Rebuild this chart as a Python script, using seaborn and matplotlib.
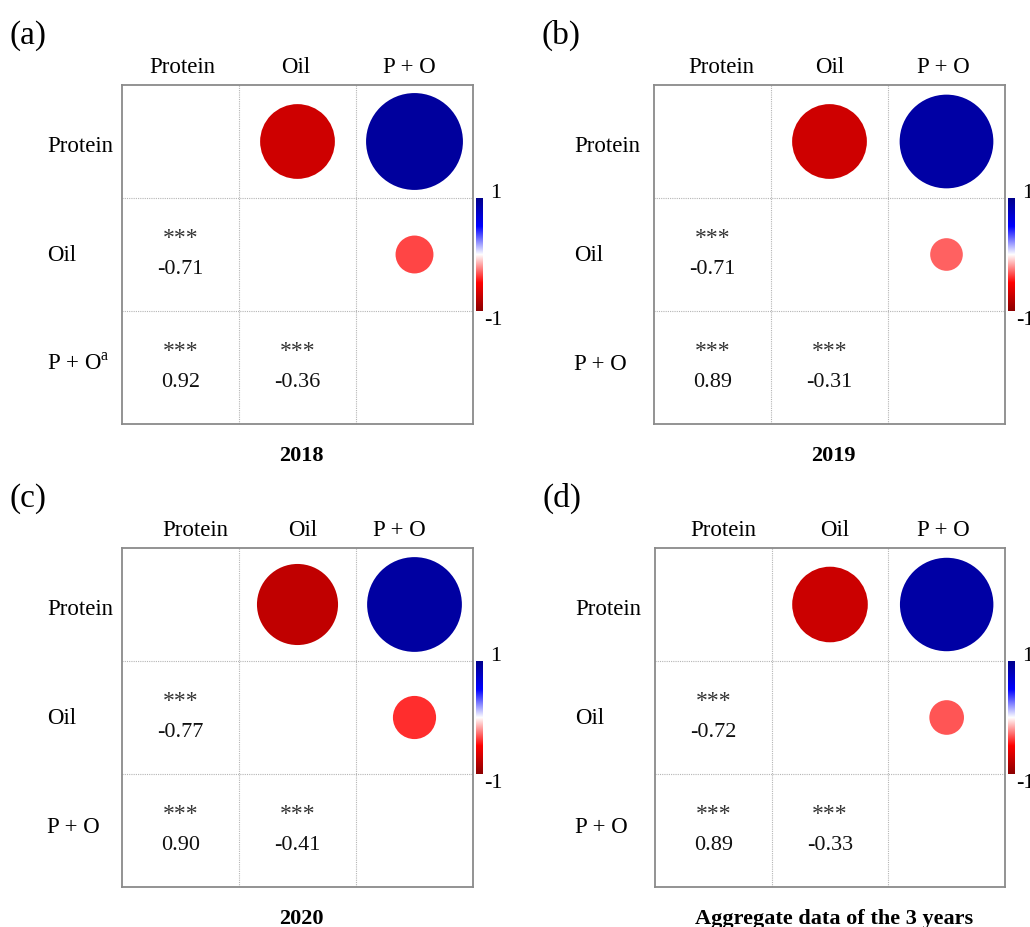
import matplotlib
matplotlib.use("Agg")
import matplotlib.pyplot as plt
import matplotlib.colors as mcolors
import seaborn as sns
import pandas as pd
import numpy as np

# ---- data ----
traits = ["Protein", "Oil", "P + O"]
pairs = [(0, 1), (0, 2), (1, 2)]          # (row, col) in the upper triangle
r_2018 = [-0.71, 0.92, -0.36]
r_2019 = [-0.71, 0.89, -0.31]
r_2020 = [-0.77, 0.90, -0.41]
r_all = [-0.72, 0.89, -0.33]
stars_2018 = ["***", "***", "***"]
stars_2019 = ["***", "***", "***"]
stars_2020 = ["***", "***", "***"]
stars_all = ["***", "***", "***"]
panel_tags = ["(a)", "(b)", "(c)", "(d)"]
panel_titles = ["2018", "2019", "2020", "Aggregate data of the 3 years"]

sns.set_theme(style="white")
plt.rcParams["font.family"] = ["Liberation Serif", "DejaVu Serif"]
plt.rcParams["mathtext.fontset"] = "custom"
plt.rcParams["mathtext.rm"] = "Liberation Serif"
plt.rcParams["text.color"] = "black"

cmap = mcolors.LinearSegmentedColormap.from_list(
    "corr", ["darkred", "red", "white", "blue", "darkblue"])

W, H = 1030, 927
fig = plt.figure(figsize=(W / 100, H / 100), dpi=100)

# box positions in pixels: left, top, right, bottom
boxes = [(122, 85, 473, 424), (654, 85, 1005, 424),
         (122, 548, 473, 887), (655, 548, 1005, 887)]
label_gap = [75, 80, 75, 80]
# column header offsets (px) from the cell centres, as set in the figure
head_shift = [(2, -2, -5), (9, 0, -3), (15, 5, -15), (10, 5, -3)]
panels = [(r_2018, stars_2018), (r_2019, stars_2019),
          (r_2020, stars_2020), (r_all, stars_all)]

for k, ((l, t, r, b), (vals, stars)) in enumerate(zip(boxes, panels)):
    ax = fig.add_axes([l / W, (H - b) / H, (r - l) / W, (b - t) / H])
    cell_px = (r - l) / 3

    df = pd.DataFrame({
        "col": [c + 0.5 for _, c in pairs],
        "row": [rw + 0.5 for rw, _ in pairs],
        "r": vals,
    })
    sizes = (0.9 * df["r"].abs() * cell_px * 0.72) ** 2
    sns.scatterplot(data=df, x="col", y="row", hue="r", palette=cmap,
                    hue_norm=(-1, 1), s=sizes, edgecolor="none",
                    legend=False, ax=ax)

    # lower triangle: stars and values
    for (rw, c), v, st in zip(pairs, vals, stars):
        ax.text(rw + 0.5, c + 0.355, st, ha="center", va="center",
                fontsize=17, color="#333333")
        ax.text(rw + 0.5, c + 0.63, f"{v:.2f}", ha="center", va="center",
                fontsize=16, color="#111111")

    # inner dotted grid
    for p in [1, 2]:
        ax.axvline(p, color="#b5b5b5", lw=0.8, ls=(0, (1, 1)))
        ax.axhline(p, color="#b5b5b5", lw=0.8, ls=(0, (1, 1)))

    ax.set_xlim(0, 3)
    ax.set_ylim(3, 0)
    ax.set_xticks([])
    ax.set_yticks([])
    ax.set_xlabel("")
    ax.set_ylabel("")
    for sp in ax.spines.values():
        sp.set_visible(True)
        sp.set_color("#8a8a8a")
        sp.set_linewidth(1.3)

    # labels
    for i, name in enumerate(traits):
        ax.text(i + 0.5 + head_shift[k][i] / cell_px, -0.155, name,
                ha="center", va="center", fontsize=16.5, clip_on=False)
        lab = name
        if k == 0 and i == 2:
            lab = "P + O$^{\\rm a}$"
        ax.text(-label_gap[k] / cell_px, 0.54 + 0.965 * i, lab, ha="left",
                va="center", fontsize=16.5, clip_on=False)

    ax.text(-0.96, -0.435, panel_tags[k], ha="left", va="center",
            fontsize=24, clip_on=False)
    ax.text(1.5 + 4 / cell_px, 3.28, panel_titles[k], ha="center",
            va="center", fontsize=16, fontweight="bold", clip_on=False)

    # colorbar beside the middle row
    cb_top = t + (b - t) / 3
    cb_bot = t + 2 * (b - t) / 3
    cax = fig.add_axes([(r + 3) / W, (H - cb_bot) / H, 7 / W,
                        (cb_bot - cb_top) / H])
    grad = np.linspace(-1, 1, 256).reshape(-1, 1)
    cax.imshow(grad, cmap=cmap, aspect="auto", origin="lower",
               extent=(0, 1, -1, 1), vmin=-1, vmax=1)
    cax.set_axis_off()
    cax.text(2.0, 1.0, "1", transform=cax.transAxes, ha="left",
             va="baseline", fontsize=16)
    cax.text(1.2, 0.0, "-1", transform=cax.transAxes, ha="left",
             va="top", fontsize=16)

fig.savefig("out.png", dpi=100)
